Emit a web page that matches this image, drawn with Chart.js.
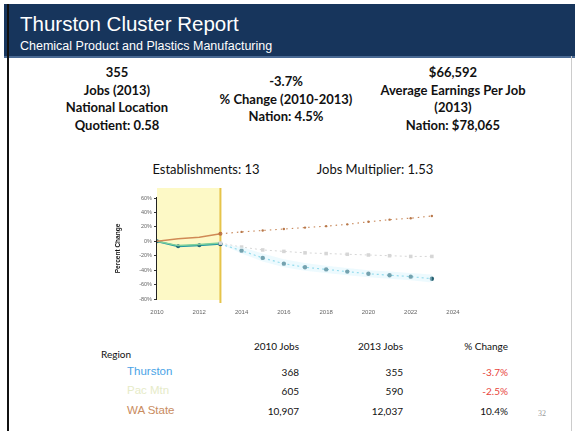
<!DOCTYPE html>
<html>
<head>
<meta charset="utf-8">
<script src="https://cdn.jsdelivr.net/npm/chart.js"></script>
<style>
  body { margin: 0; width: 579px; height: 431px; background: #fff; position: relative; overflow: hidden; font-family: "Liberation Sans", Arial, sans-serif; }
  .frame-left { position: absolute; left: 7px; top: 4px; width: 2px; height: 427px; background: #111; }
  .frame-right { position: absolute; left: 571px; top: 56px; width: 1px; height: 375px; background: #ccc; }
  .header { position: absolute; left: 4px; top: 4px; width: 571px; height: 52px; background: #17355c; border-bottom: 2px solid #4a6a94; }
  .title { position: absolute; left: 16px; top: 8px; color: #fff; font-size: 20.5px; }
  .subtitle { position: absolute; left: 16px; top: 35px; color: #fff; font-size: 12.5px; }
  .stat { position: absolute; font-family: Lato, "Open Sans", sans-serif; font-weight: bold; font-size: 13px; color: #111; text-align: center; line-height: 17.5px; transform: translateX(-50%); white-space: nowrap; }
  .plain { position: absolute; font-family: Lato, "Open Sans", sans-serif; font-size: 13px; color: #111; transform: translateX(-50%); white-space: nowrap; }
  #chartBox { position: absolute; left: 100px; top: 185px; width: 370px; height: 130px; }
  .cell { position: absolute; font-family: Lato, "Open Sans", sans-serif; font-size: 10px; color: #111; white-space: nowrap; }
  .r { transform: translateX(-100%); }
  .name { position: absolute; font-family: "Liberation Sans", Arial, sans-serif; font-size: 11.5px; white-space: nowrap; }
</style>
</head>
<body>
<div class="header">
  <div class="title">Thurston Cluster Report</div>
  <div class="subtitle">Chemical Product and Plastics Manufacturing</div>
</div>
<div class="frame-left"></div>
<div class="frame-right"></div>

<div class="stat" style="left:117px; top:64px;">355<br>Jobs (2013)<br>National Location<br>Quotient: 0.58</div>
<div class="stat" style="left:286px; top:73px;">-3.7%<br>% Change (2010-2013)<br>Nation: 4.5%</div>
<div class="stat" style="left:453px; top:64px;">$66,592<br>Average Earnings Per Job<br>(2013)<br>Nation: $78,065</div>

<div class="plain" style="left:206px; top:161px;">Establishments: 13</div>
<div class="plain" style="left:375px; top:161px;">Jobs Multiplier: 1.53</div>

<div id="chartBox"><canvas id="trendChart" width="370" height="130"></canvas></div>

<div id="table"></div>
<div style="position:absolute; left:538px; top:409px; font-family:'Liberation Serif',serif; font-size:8px; color:#999;">32</div>

<script>
// years shown on the chart
const years = [2010, 2011, 2012, 2013, 2014, 2015, 2016, 2017, 2018, 2019, 2020, 2021, 2022, 2023];
const xTicks = [2010, 2012, 2014, 2016, 2018, 2020, 2022, 2024];

// percent change since 2010, actual (2010-2013)
const thurstonActual = [0, -7, -5.5, -3.7];
const pacMtnActual = [0, -6, -4.5, -2.5];
const waStateActual = [0, 3.5, 5.5, 10.4];

// projections (2013-2023)
const thurstonProj = [-3.7, -13, -23, -31, -36, -39, -42, -45, -47, -49, -52];
const thurstonUpper = [-3.7, -8, -17, -25, -30, -34, -37, -40, -42, -44, -46];
const thurstonLower = [-3.7, -17, -28, -36, -41, -44, -47, -50, -52, -54, -57];
const pacMtnProj = [-2.5, -8, -12, -14, -16, -17, -18, -19, -20, -21, -21];
const waStateProj = [10.4, 13, 15, 17, 19, 21, 23.5, 27, 30, 32, 35];

// table
const regions = ['Thurston', 'Pac Mtn', 'WA State'];
const regionColors = ['#4aa3e6', '#e6ebc8', '#c98b5e'];
const jobs2010 = ['368', '605', '10,907'];
const jobs2013 = ['355', '590', '12,037'];
const pctChange = ['-3.7%', '-2.5%', '10.4%'];
const pctColors = ['#e8443a', '#e8443a', '#111'];

const table = document.getElementById('table');
let html = '';
html += '<div class="cell" style="left:101px; top:348px;">Region</div>';
html += '<div class="cell r" style="left:299px; top:340px;">2010 Jobs</div>';
html += '<div class="cell r" style="left:403px; top:340px;">2013 Jobs</div>';
html += '<div class="cell r" style="left:508px; top:340px;">% Change</div>';
const rowY = [366, 385, 405];
regions.forEach((r, i) => {
  html += `<div class="name" style="left:127px; top:${rowY[i] - 1}px; color:${regionColors[i]};">${r}</div>`;
  html += `<div class="cell r" style="left:299px; top:${rowY[i]}px;">${jobs2010[i]}</div>`;
  html += `<div class="cell r" style="left:403px; top:${rowY[i]}px;">${jobs2013[i]}</div>`;
  html += `<div class="cell r" style="left:508px; top:${rowY[i]}px; color:${pctColors[i]};">${pctChange[i]}</div>`;
});
table.innerHTML = html;

const actualPts = (vals) => vals.map((v, i) => ({ x: years[i], y: v }));
const projPts = (vals) => vals.map((v, i) => ({ x: years[i + 3], y: v }));

// pale yellow box over the historic years, gold line at 2013
const historyBand = {
  id: 'historyBand',
  beforeDatasetsDraw(chart) {
    const { ctx, scales: { x }, chartArea } = chart;
    const x0 = x.getPixelForValue(2010);
    const x1 = x.getPixelForValue(2013);
    ctx.save();
    ctx.fillStyle = '#fdf9c6';
    ctx.fillRect(x0, chartArea.top - 10, x1 - x0, chartArea.bottom - chartArea.top + 11);
    ctx.strokeStyle = '#e6c44a';
    ctx.lineWidth = 2;
    ctx.beginPath();
    ctx.moveTo(x1, chartArea.top - 10);
    ctx.lineTo(x1, chartArea.bottom + 4);
    ctx.stroke();
    ctx.restore();
  }
};

new Chart(document.getElementById('trendChart'), {
  type: 'line',
  data: {
    datasets: [
      { data: projPts(thurstonUpper), borderWidth: 0, pointRadius: 0, fill: '+1', backgroundColor: 'rgba(215,245,252,0.45)' },
      { data: projPts(thurstonLower), borderWidth: 0, pointRadius: 0, fill: false },
      { label: 'Pac Mtn proj', data: projPts(pacMtnProj), borderColor: '#d6d6d6', borderWidth: 1, borderDash: [2, 3], pointStyle: 'rect', pointRadius: 2.5, pointBackgroundColor: '#d6d6d6', pointBorderWidth: 0 },
      { label: 'WA State proj', data: projPts(waStateProj), borderColor: '#c98b5e', borderWidth: 1.2, borderDash: [1.5, 4], pointRadius: 1.2, pointBackgroundColor: '#b8784a', pointBorderWidth: 0 },
      { label: 'Thurston proj', data: projPts(thurstonProj), borderColor: '#5cc6df', borderWidth: 1.2, borderDash: [2, 3], pointRadius: 2.2, pointBackgroundColor: '#245f70', pointBorderWidth: 0 },
      { label: 'WA State', data: actualPts(waStateActual), borderColor: '#d08a55', borderWidth: 1.5, pointRadius: [0, 0, 0, 2], pointBackgroundColor: '#c0703a', pointBorderWidth: 0 },
      { label: 'Pac Mtn', data: actualPts(pacMtnActual), borderColor: '#7fcf9a', borderWidth: 1.5, pointRadius: 0 },
      { label: 'Thurston', data: actualPts(thurstonActual), borderColor: '#1f9aa4', borderWidth: 1.8, pointRadius: 2, pointBackgroundColor: '#1f6878', pointBorderWidth: 0 }
    ]
  },
  options: {
    responsive: false,
    animation: false,
    devicePixelRatio: 1,
    layout: { padding: { top: 13, right: 17, bottom: 0, left: 0 } },
    plugins: { legend: { display: false }, tooltip: { enabled: false } },
    scales: {
      x: {
        type: 'linear',
        min: 2010,
        max: 2024,
        afterBuildTicks: (axis) => { axis.ticks = xTicks.map(v => ({ value: v })); },
        afterFit: (axis) => { axis.height = 16; },
        grid: { display: false },
        border: { display: false },
        ticks: { color: '#666', font: { size: 6, family: 'Liberation Sans' }, maxRotation: 0, padding: 2, callback: (v) => String(v) }
      },
      y: {
        min: -80,
        max: 60,
        afterFit: (axis) => { axis.width = 57; },
        grid: { display: true, drawOnChartArea: false, tickLength: 3, color: '#333' },
        border: { display: true, color: '#222', width: 1.5 },
        ticks: { stepSize: 20, color: '#666', font: { size: 5.5, family: 'Liberation Sans' }, padding: 2, callback: (v) => v + '%' },
        title: { display: true, text: 'Percent Change', color: '#111', font: { size: 6.5, weight: 'bold', family: 'Liberation Sans' }, padding: { top: 14, bottom: 0 } }
      }
    }
  },
  plugins: [historyBand]
});
</script>
</body>
</html>
